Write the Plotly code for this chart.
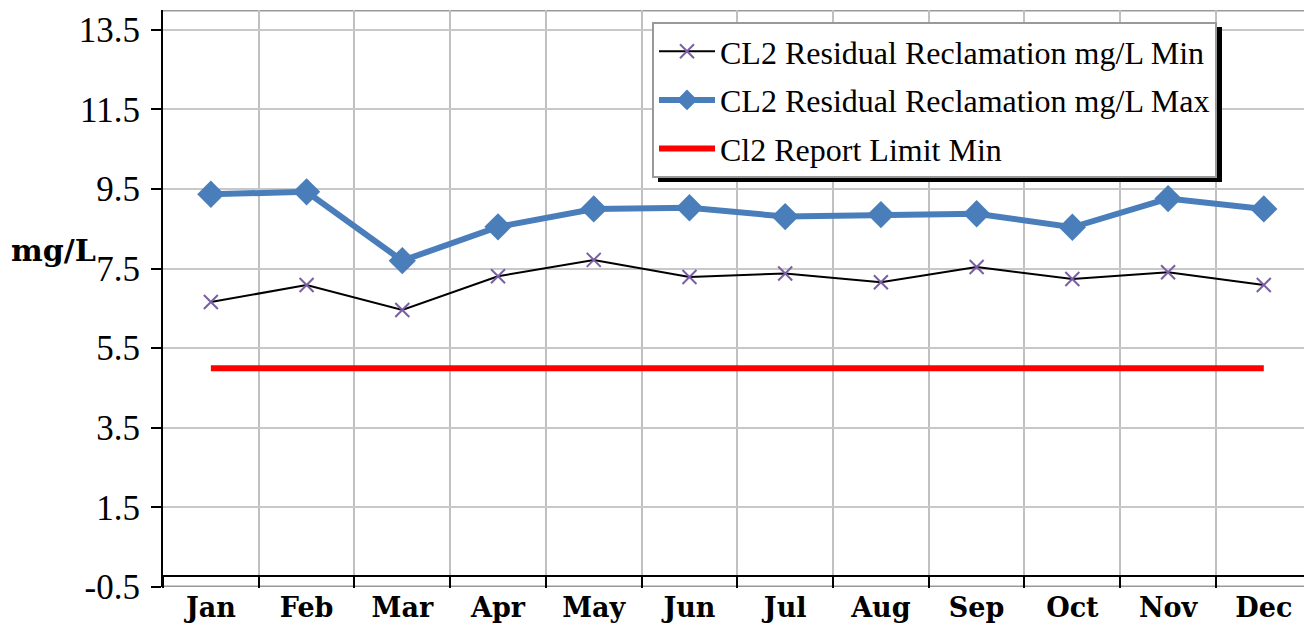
import plotly.graph_objects as go

months = ["Jan", "Feb", "Mar", "Apr", "May", "Jun", "Jul", "Aug", "Sep", "Oct", "Nov", "Dec"]
cl2_min = [6.66, 7.09, 6.46, 7.31, 7.72, 7.29, 7.38, 7.16, 7.54, 7.24, 7.41, 7.09]
cl2_max = [9.37, 9.43, 7.70, 8.55, 9.00, 9.03, 8.81, 8.86, 8.88, 8.54, 9.26, 9.00]
report_limit = [5.0] * 12
y_ticks = [-0.5, 1.5, 3.5, 5.5, 7.5, 9.5, 11.5, 13.5]
y_tick_text = ["-0.5", "1.5", "3.5", "5.5", "7.5", "9.5", "11.5", "13.5"]
y_min, y_max = -0.5, 14.0
x_cross = -0.22

fig = go.Figure()
fig.add_trace(go.Scatter(
    x=months, y=cl2_min, name="CL2 Residual Reclamation mg/L Min",
    mode="lines+markers", legendgroup="a",
    line=dict(color="black", width=2),
    marker=dict(symbol="x-thin", size=14, line=dict(color="#7b5fa5", width=2), color="#7b5fa5"),
))
fig.add_trace(go.Scatter(
    x=months, y=cl2_max, name="CL2 Residual Reclamation mg/L Max",
    mode="lines+markers", legendgroup="b",
    line=dict(color="#4a7ebb", width=6),
    marker=dict(symbol="diamond", size=21, color="#4a7ebb"),
))
fig.add_trace(go.Scatter(
    x=months, y=report_limit, name="Cl2 Report Limit Min",
    mode="lines", legendgroup="c",
    line=dict(color="#ff0000", width=6),
))

# legend shadow
fig.add_shape(type="rect", xref="paper", yref="paper",
              x0=(658 - 163) / 1141, x1=(1222 - 163) / 1141,
              y0=(587 - 182) / 577, y1=(587 - 27) / 577,
              fillcolor="black", line=dict(width=0), layer="above")
# top border and bottom border
fig.add_shape(type="line", xref="paper", yref="y", x0=0, x1=1, y0=y_max, y1=y_max,
              line=dict(color="#999999", width=3), layer="below")
fig.add_shape(type="line", xref="paper", yref="y", x0=0, x1=1, y0=y_min, y1=y_min,
              line=dict(color="#999999", width=3), layer="below")

fig.add_annotation(text="<b>mg/L</b>", xref="paper", yref="paper",
                   x=(9 - 163) / 1141, y=(587 - 250) / 577, xanchor="left", yanchor="middle",
                   showarrow=False, font=dict(family="DejaVu Serif", size=30, color="black"))

fig.update_layout(
    width=1304, height=627,
    margin=dict(l=163, r=0, t=10, b=40),
    paper_bgcolor="white", plot_bgcolor="white",
    showlegend=True,
    legend=dict(
        x=(652 - 163) / 1141, y=(587 - 22) / 577, xanchor="left", yanchor="top",
        bgcolor="white", bordercolor="#999999", borderwidth=2,
        font=dict(family="Liberation Serif", size=32, color="black"),
        tracegroupgap=4, itemwidth=56, traceorder="grouped",
    ),
    xaxis=dict(
        type="category", range=[-0.5, 11.42], automargin=False,
        tickson="boundaries", ticks="outside", ticklen=11, tickcolor="black", tickwidth=1.5,
        showgrid=True, gridcolor="#c0c0c0", gridwidth=2,
        showline=True, linecolor="black", linewidth=1.5,
        anchor="free", position=(x_cross - y_min) / (y_max - y_min),
        tickfont=dict(family="DejaVu Serif", size=27, color="black"),
        tickprefix="<b>", ticksuffix="</b>",
        ticklabelstandoff=8,
        zeroline=False,
    ),
    yaxis=dict(
        range=[y_min, y_max], tickvals=y_ticks, ticktext=y_tick_text, automargin=False,
        ticks="outside", ticklen=10, tickcolor="black", tickwidth=1.5,
        showgrid=True, gridcolor="#c8c8c8", gridwidth=2,
        showline=True, linecolor="black", linewidth=2,
        zeroline=False,
        tickfont=dict(family="Liberation Serif", size=35, color="black"),
        ticklabelstandoff=4,
    ),
)

fig.write_html("out.html", config={"displayModeBar": False},
               post_script="document.body.style.margin='0';")
